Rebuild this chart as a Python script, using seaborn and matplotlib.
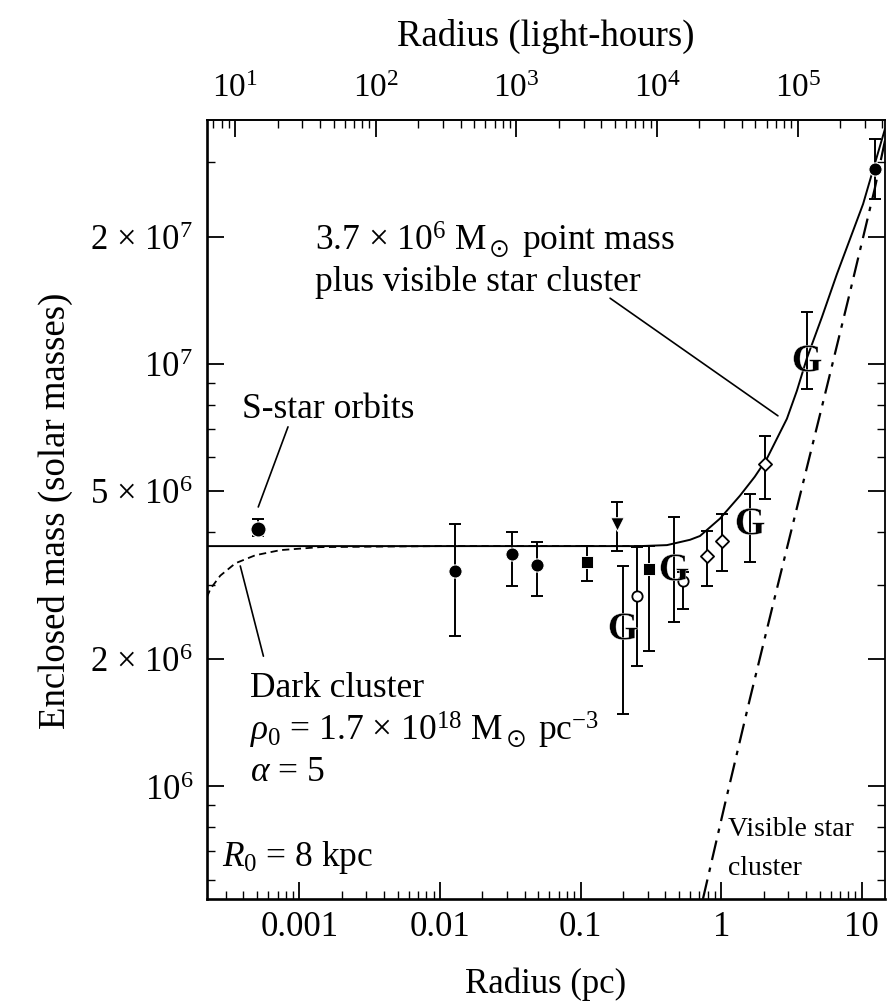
import matplotlib
matplotlib.use("Agg")
import matplotlib.pyplot as plt
import matplotlib.ticker as mticker
import numpy as np
import pandas as pd
import seaborn as sns

sns.set_theme(style="ticks")
plt.rcParams["font.family"] = ["Liberation Serif", "DejaVu Serif"]
plt.rcParams["mathtext.fontset"] = "custom"
plt.rcParams["mathtext.rm"] = "Liberation Serif"
plt.rcParams["mathtext.it"] = "Liberation Serif:italic"
plt.rcParams["mathtext.bf"] = "Liberation Serif:bold"
plt.rcParams["mathtext.fallback"] = "stix"

# --- enclosed-mass measurements (radius in pc, mass in solar masses) ---
radius_pc = [5.1e-4, 0.0128, 0.0326, 0.049, 0.111, 0.18, 0.20, 0.252, 0.306,
             0.461, 0.535, 0.79, 1.01, 1.6, 2.04, 4.06, 12.4]
mass_msun = [4.07e6, 3.23e6, 3.55e6, 3.34e6, 3.40e6, 4.18e6, 2.39e6, 2.82e6, 3.27e6,
             3.30e6, 3.06e6, 3.51e6, 3.81e6, 4.25e6, 5.8e6, 1.03e7, 2.9e7]
mass_low = [3.9e6, 2.27e6, 2.98e6, 2.82e6, 3.06e6, 3.6e6, 1.48e6, 1.92e6, 2.09e6,
            2.45e6, 2.62e6, 2.97e6, 3.23e6, 3.4e6, 4.79e6, 8.7e6, 2.46e7]
mass_high = [4.3e6, 4.18e6, 4.0e6, 3.78e6, 3.70e6, 4.71e6, 3.32e6, 3.68e6, 3.70e6,
             4.34e6, 3.21e6, 4.02e6, 4.42e6, 4.92e6, 6.74e6, 1.33e7, 3.41e7]
method = ["orbit", "dot", "dot", "dot", "square", "triangle", "gas", "ring", "square",
          "gas", "ring", "diamond", "diamond", "gas", "diamond", "gas", "dot"]

# --- model curves ---
# point mass plus visible star cluster (solid)
pm_radius = [2.2e-4, 0.01, 0.1, 0.264, 0.411, 0.60, 0.706, 0.980, 1.358, 1.73, 2.11,
             2.93, 3.45, 4.06, 5.2, 6.64, 10.2, 14.6]
pm_mass = [3.7e6, 3.7e6, 3.7e6, 3.7e6, 3.72e6, 3.83e6, 3.91e6, 4.30e6, 4.87e6, 5.40e6,
           5.96e6, 7.41e6, 8.63e6, 1.03e7, 1.29e7, 1.63e7, 2.39e7, 3.6e7]
# dark cluster (dashed)
dc_radius = [2.2e-4, 2.33e-4, 2.74e-4, 3.51e-4, 4.86e-4, 7.33e-4, 1.41e-3, 0.01, 0.1, 0.3]
dc_mass = [2.8e6, 2.93e6, 3.15e6, 3.37e6, 3.52e6, 3.62e6, 3.68e6, 3.70e6, 3.70e6, 3.70e6]
# visible star cluster (dash-dot)
vis_radius = [0.741, 1.062, 1.60, 2.41, 3.62, 5.46, 8.20, 12.35, 14.8]
vis_mass = [5.4e5, 9.06e5, 1.61e6, 2.81e6, 4.86e6, 8.45e6, 1.47e7, 2.60e7, 3.45e7]

x_ticks = [0.001, 0.01, 0.1, 1, 10]
x_ticklabels = ["0.001", "0.01", "0.1", "1", "10"]
top_ticks = [1e1, 1e2, 1e3, 1e4, 1e5]
top_ticklabels = [r"10$^1$", r"10$^2$", r"10$^3$", r"10$^4$", r"10$^5$"]
y_ticks = [1e6, 2e6, 5e6, 1e7, 2e7]
y_ticklabels = [r"10$^6$", r"2 × 10$^6$", r"5 × 10$^6$", r"10$^7$", r"2 × 10$^7$"]

LIGHT_HOURS_PER_PC = 2.859e4

df = pd.DataFrame({"radius": radius_pc, "mass": mass_msun,
                   "low": mass_low, "high": mass_high, "method": method})

fig = plt.figure(figsize=(8.88, 10.04), dpi=100)
ax = fig.add_axes([0.233, 0.1036, 0.7636, 0.7759])
ax.set_xscale("log")
ax.set_yscale("log")
ax.set_xlim(2.2e-4, 14.6)
ax.set_ylim(5.4e5, 3.78e7)

# model curves
sns.lineplot(x=pm_radius, y=pm_mass, ax=ax, color="black", lw=1.4,
             sort=False, estimator=None)
sns.lineplot(x=dc_radius, y=dc_mass, ax=ax, color="black", lw=1.3,
             sort=False, estimator=None, linestyle=(0, (4, 2.5)))
sns.lineplot(x=vis_radius, y=vis_mass, ax=ax, color="black", lw=1.6,
             sort=False, estimator=None, linestyle=(0, (9, 3.5, 2, 3.5)))

# error bars
ax.errorbar(df["radius"], df["mass"],
            yerr=[df["mass"] - df["low"], df["high"] - df["mass"]],
            fmt="none", ecolor="black", elinewidth=1.4, capsize=4, capthick=1.4,
            zorder=3)

marker_styles = {
    "orbit": dict(marker="o", s=120, color="black"),
    "dot": dict(marker="o", s=90, color="black"),
    "square": dict(marker="s", s=70, color="black"),
    "triangle": dict(marker="v", s=95, color="black"),
    "ring": dict(marker="o", s=55, facecolor="white", edgecolor="black", linewidth=1.3),
    "diamond": dict(marker="D", s=45, facecolor="white", edgecolor="black", linewidth=1.3),
    "gas": dict(marker=r"$\mathbf{G}$", s=400, color="black", linewidth=0.3),
}
for kind, style in marker_styles.items():
    sub = df[df["method"] == kind]
    sns.scatterplot(data=sub, x="radius", y="mass", ax=ax, zorder=4,
                    legend=False, **style)

# axes styling
ax.set_xticks(x_ticks)
ax.set_xticklabels(x_ticklabels)
ax.set_yticks(y_ticks)
ax.set_yticklabels(y_ticklabels)
ax.xaxis.set_minor_locator(mticker.LogLocator(base=10, subs=np.arange(2, 10), numticks=20))
ax.yaxis.set_minor_locator(mticker.LogLocator(base=10, subs=np.arange(2, 10), numticks=20))
ax.xaxis.set_minor_formatter(mticker.NullFormatter())
ax.yaxis.set_minor_formatter(mticker.NullFormatter())
ax.tick_params(which="both", direction="in", top=False, right=True, colors="black",
               labelsize=25)
ax.tick_params(which="major", length=12, width=1.3)
ax.tick_params(which="minor", length=6, width=1.0)
ax.tick_params(axis="x", pad=8)
ax.tick_params(axis="y", pad=10)

for side in ["left", "bottom"]:
    ax.spines[side].set_linewidth(1.9)
for side in ["top", "right"]:
    ax.spines[side].set_linewidth(1.3)
for sp in ax.spines.values():
    sp.set_color("black")

ax.set_xlabel("Radius (pc)", fontsize=25, labelpad=17, color="black")
ax.set_ylabel("Enclosed mass (solar masses)", fontsize=26.5, labelpad=12, color="black")

top = ax.secondary_xaxis("top", functions=(lambda r: r * LIGHT_HOURS_PER_PC,
                                           lambda h: h / LIGHT_HOURS_PER_PC))
top.set_xticks(top_ticks)
top.set_xticklabels(top_ticklabels)
top.xaxis.set_minor_locator(mticker.LogLocator(base=10, subs=np.arange(2, 10), numticks=20))
top.xaxis.set_minor_formatter(mticker.NullFormatter())
top.tick_params(which="both", direction="in", labelsize=24, colors="black", pad=12)
top.tick_params(which="major", length=12, width=1.3)
top.tick_params(which="minor", length=6, width=1.0)
top.set_xlabel("Radius (light-hours)", fontsize=26.5, labelpad=20, color="black")

# annotations
txt = dict(transform=ax.transAxes, fontsize=25.5, color="black", va="center", ha="left")
ax.text(0.052, 0.629, "S-star orbits", **txt)
ax.text(0.159, 0.847, r"3.7 × 10$^6$ M$_\odot$ point mass", **txt)
ax.text(0.159, 0.793, "plus visible star cluster", **txt)
ax.text(0.063, 0.272, "Dark cluster", **txt)
ax.text(0.063, 0.218, r"$\rho_0$ = 1.7 × 10$^{18}$ M$_\odot$ pc$^{-3}$", **txt)
ax.text(0.063, 0.164, r"$\alpha$ = 5", **txt)
ax.text(0.022, 0.055, r"$R_0$ = 8 kpc", **txt)
small = dict(txt, fontsize=20)
ax.text(0.768, 0.090, "Visible star", **small)
ax.text(0.768, 0.041, "cluster", **small)

leader = dict(arrowstyle="-", color="black", lw=1.2, shrinkA=0, shrinkB=0)
ax.annotate("", xy=(5.1e-4, 4.58e6), xytext=(8.3e-4, 7.09e6), arrowprops=leader)
ax.annotate("", xy=(2.53, 7.53e6), xytext=(0.162, 1.43e7), arrowprops=leader)
ax.annotate("", xy=(3.8e-4, 3.32e6), xytext=(5.55e-4, 2.03e6), arrowprops=leader)

fig.savefig("out.png", dpi=100, facecolor="white")
